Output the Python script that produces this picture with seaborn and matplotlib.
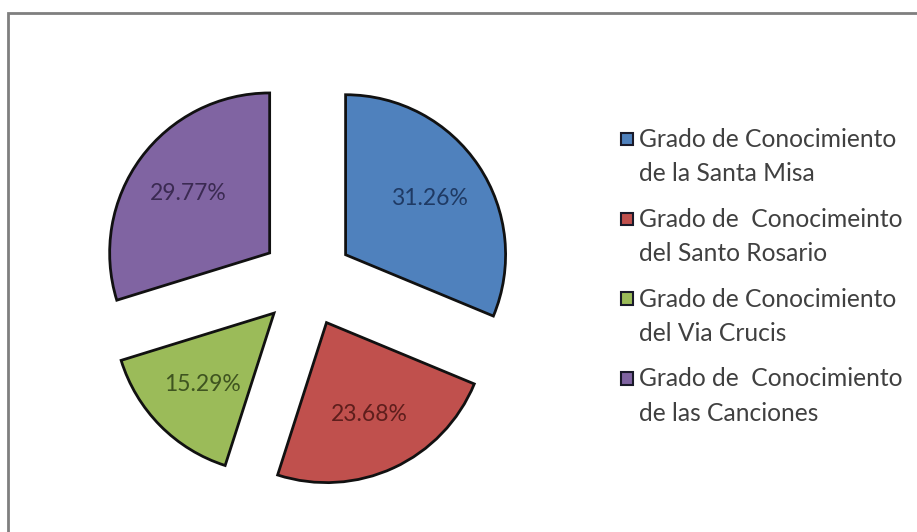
import matplotlib
matplotlib.use("Agg")
import matplotlib.pyplot as plt
import seaborn as sns
import numpy as np
from matplotlib.patches import Rectangle, Patch
from matplotlib.legend_handler import HandlerPatch

sns.set_theme(style="white")
plt.rcParams['font.family'] = ['Lato', 'DejaVu Sans']

categories = [
    "Grado de Conocimiento\nde la Santa Misa",
    "Grado de  Conocimeinto\ndel Santo Rosario",
    "Grado de Conocimiento\ndel Via Crucis",
    "Grado de  Conocimiento\nde las Canciones",
]
values = [31.26, 23.68, 15.29, 29.77]
labels_pct = ["31.26%", "23.68%", "15.29%", "29.77%"]
fill_colors = ["#4F81BD", "#C0504D", "#9BBB59", "#8064A2"]
text_colors = ["#1F3A64", "#5E1E1C", "#3F5420", "#3B2A52"]

W, H = 917, 532
fig = plt.figure(figsize=(W / 100, H / 100), dpi=100)
fig.patch.set_facecolor("white")

# outer frame (top and left edges visible)
fig.patches.append(Rectangle((8 / W, -0.1), 1.2, 1 - 13 / H + 0.1,
                             transform=fig.transFigure, fill=False,
                             edgecolor="#7f7f7f", linewidth=2.0))

ax = fig.add_axes([0, 0, 1, 1])
R = 160.0
cx, cy = 307.0, 280.5
wedges, _ = ax.pie(values, colors=fill_colors, startangle=90, counterclock=False,
                   explode=[0.29] * 4,
                   wedgeprops=dict(edgecolor="#111111", linewidth=2.0))
for w, lab, tc in zip(wedges, labels_pct, text_colors):
    ang = np.deg2rad((w.theta1 + w.theta2) / 2)
    c = w.center
    ax.text(c[0] + 0.63 * np.cos(ang), c[1] + 0.63 * np.sin(ang), lab,
            ha="center", va="center", fontsize=16.5, color=tc)

ax.set_aspect("auto")
ax.set_xlim(-cx / R, (W - cx) / R)
ax.set_ylim(-(H - cy) / R, cy / R)
ax.axis("off")


def square_at_bottom(legend, orig_handle, xdescent, ydescent, width, height, fontsize):
    return Rectangle((-xdescent, -ydescent), width, width)


handles = [Patch(facecolor=c, edgecolor="#1a1a2a", linewidth=1.5) for c in fill_colors]
leg = fig.legend(handles, categories, loc="upper left", bbox_to_anchor=(621 / W, 1 - 128 / H),
                 frameon=False, fontsize=17.7, handlelength=0.5, handleheight=0.69,
                 handletextpad=0.25, labelspacing=0.92, borderpad=0, borderaxespad=0,
                 handler_map={Patch: HandlerPatch(patch_func=square_at_bottom)})
for t in leg.get_texts():
    t.set_color("#404040")
    t.set_linespacing(1.59)
for col in leg._legend_handle_box.get_children():
    for hp in col.get_children():
        hp.align = "top"

fig.savefig("out.png", dpi=100)
